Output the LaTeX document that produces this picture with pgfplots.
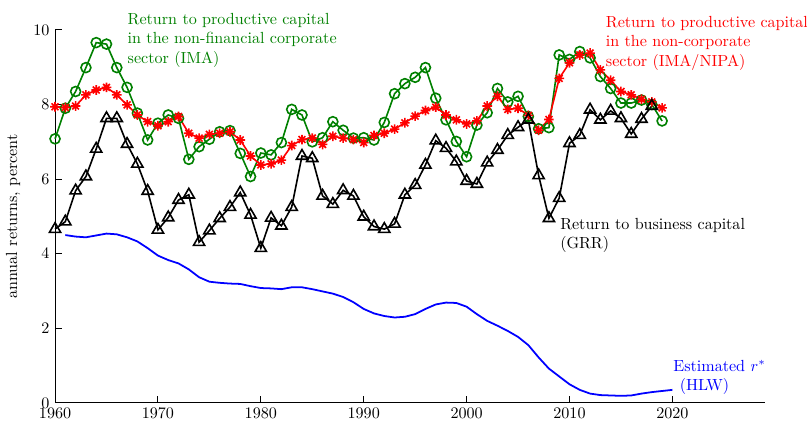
\documentclass[border=0pt]{standalone}
\usepackage{pgfplots}
\pgfplotsset{compat=1.18}
\definecolor{igreen}{rgb}{0,0.5,0}
\pgfdeclareplotmark{ast8}{%
 \pgfpathmoveto{\pgfpoint{0pt}{\pgfplotmarksize}}\pgfpathlineto{\pgfpoint{0pt}{-\pgfplotmarksize}}%
 \pgfpathmoveto{\pgfpoint{\pgfplotmarksize}{0pt}}\pgfpathlineto{\pgfpoint{-\pgfplotmarksize}{0pt}}%
 \pgfpathmoveto{\pgfpoint{0.707\pgfplotmarksize}{0.707\pgfplotmarksize}}\pgfpathlineto{\pgfpoint{-0.707\pgfplotmarksize}{-0.707\pgfplotmarksize}}%
 \pgfpathmoveto{\pgfpoint{-0.707\pgfplotmarksize}{0.707\pgfplotmarksize}}\pgfpathlineto{\pgfpoint{0.707\pgfplotmarksize}{-0.707\pgfplotmarksize}}%
 \pgfusepathqstroke}
\pgfplotstableread{
year ima nipa
1960 7.08 7.94
1961 7.90 7.92
1962 8.35 7.96
1963 8.99 8.26
1964 9.66 8.39
1965 9.62 8.46
1966 8.99 8.26
1967 8.46 7.99
1968 7.77 7.72
1969 7.05 7.54
1970 7.50 7.43
1971 7.72 7.54
1972 7.63 7.68
1973 6.53 7.23
1974 6.87 7.10
1975 7.07 7.20
1976 7.27 7.23
1977 7.30 7.27
1978 6.69 7.05
1979 6.07 6.62
1980 6.70 6.38
1981 6.65 6.41
1982 6.98 6.51
1983 7.87 6.90
1984 7.72 7.06
1985 7.00 7.10
1986 7.11 6.93
1987 7.54 7.15
1988 7.31 7.10
1989 7.10 7.06
1990 7.11 6.98
1991 7.05 7.17
1992 7.52 7.23
1993 8.29 7.34
1994 8.56 7.51
1995 8.73 7.69
1996 8.99 7.84
1997 8.17 7.93
1998 7.59 7.72
1999 7.01 7.59
2000 6.60 7.48
2001 7.45 7.56
2002 7.78 7.96
2003 8.43 8.22
2004 8.07 7.87
2005 8.22 7.90
2006 7.68 7.71
2007 7.35 7.31
2008 7.38 7.60
2009 9.33 8.70
2010 9.21 9.12
2011 9.42 9.33
2012 9.25 9.38
2013 8.75 8.93
2014 8.43 8.65
2015 8.04 8.35
2016 8.04 8.26
2017 8.12 8.14
2018 8.00 8.07
2019 7.56 7.91
}\prodtable
\pgfplotstableread{
year grr
1960 4.66
1961 4.86
1962 5.69
1963 6.07
1964 6.81
1965 7.63
1966 7.63
1967 6.94
1968 6.41
1969 5.68
1970 4.64
1971 4.97
1972 5.44
1973 5.58
1974 4.31
1975 4.62
1976 4.95
1977 5.25
1978 5.64
1979 5.04
1980 4.15
1981 4.96
1982 4.75
1983 5.25
1984 6.62
1985 6.56
1986 5.55
1987 5.33
1988 5.70
1989 5.55
1990 4.99
1991 4.73
1992 4.66
1993 4.80
1994 5.58
1995 5.84
1996 6.38
1997 7.03
1998 6.83
1999 6.47
2000 5.95
2001 5.87
2002 6.44
2003 6.78
2004 7.18
2005 7.39
2006 7.59
2007 6.10
2008 4.95
2009 5.49
2010 6.96
2011 7.18
2012 7.86
2013 7.59
2014 7.83
2015 7.63
2016 7.21
2017 7.61
2018 7.96
}\grrtable
\pgfplotstableread{
year rstar
1961 4.50
1962 4.46
1963 4.44
1964 4.49
1965 4.54
1966 4.52
1967 4.44
1968 4.33
1969 4.15
1970 3.95
1971 3.83
1972 3.74
1973 3.58
1974 3.37
1975 3.25
1976 3.22
1977 3.20
1978 3.19
1979 3.13
1980 3.08
1981 3.07
1982 3.05
1983 3.10
1984 3.10
1985 3.05
1986 2.99
1987 2.93
1988 2.84
1989 2.70
1990 2.52
1991 2.40
1992 2.33
1993 2.29
1994 2.31
1995 2.38
1996 2.52
1997 2.64
1998 2.69
1999 2.68
2000 2.58
2001 2.38
2002 2.20
2003 2.07
2004 1.93
2005 1.77
2006 1.55
2007 1.22
2008 0.92
2009 0.71
2010 0.50
2011 0.35
2012 0.25
2013 0.21
2014 0.20
2015 0.19
2016 0.20
2017 0.25
2018 0.29
2019 0.32
2020 0.35
}\rstartable
\begin{document}
\begin{tikzpicture}
\begin{axis}[name=ax,
  scale only axis, width=441pt, height=231.7pt,
  xmin=1960, xmax=2029, ymin=0, ymax=10,
  axis x line=bottom, axis y line=left,
  axis line style={-, black, line width=0.6pt},
  xtick={1960,1970,...,2020}, ytick={0,2,...,10},
  tick align=inside, major tick length=4.5pt,
  tick style={black, line width=0.6pt},
  x tick label style={/pgf/number format/1000 sep={}},
  every axis y label/.style={at={(axis description cs:-0.059,0.5)}, rotate=90, anchor=center},
  ylabel={annual returns, percent},
  clip=false,
]
\addplot[igreen, line width=1pt, mark=o, mark size=3.1pt, mark options={solid, line width=1pt}] table[x=year, y=ima] {\prodtable};
\addplot[red, line width=1pt, mark=ast8, mark size=3pt, mark options={solid, line width=1pt}] table[x=year, y=nipa] {\prodtable};
\addplot[black, line width=1pt, mark=triangle, mark size=4pt, mark options={solid, line width=1pt}] table[x=year, y=grr] {\grrtable};
\addplot[blue, line width=1.1pt, no marks] table[x=year, y=rstar] {\rstartable};
\node[anchor=north west, inner sep=0pt, align=left, text=igreen] at (axis cs:1967.03,10.45) {Return to productive capital\\in the non-financial corporate\\sector (IMA)};
\node[anchor=north west, inner sep=0pt, align=left, text=red] at (axis cs:2013.51,10.37) {Return to productive capital\\in the non-corporate\\sector (IMA/NIPA)};
\node[anchor=north west, inner sep=0pt, align=left, text=black] at (axis cs:2009.07,4.96) {Return to business capital\\(GRR)};
\node[anchor=north west, inner sep=0pt, align=left, text=blue] at (axis cs:2020.06,1.16) {Estimated $r^*$\\\hspace*{4pt}(HLW)};
\end{axis}
\pgfresetboundingbox
\path ([xshift=-34.2pt,yshift=-13pt]ax.south west) rectangle ([xshift=26.1pt,yshift=18.6pt]ax.north east);
\end{tikzpicture}
\end{document}
